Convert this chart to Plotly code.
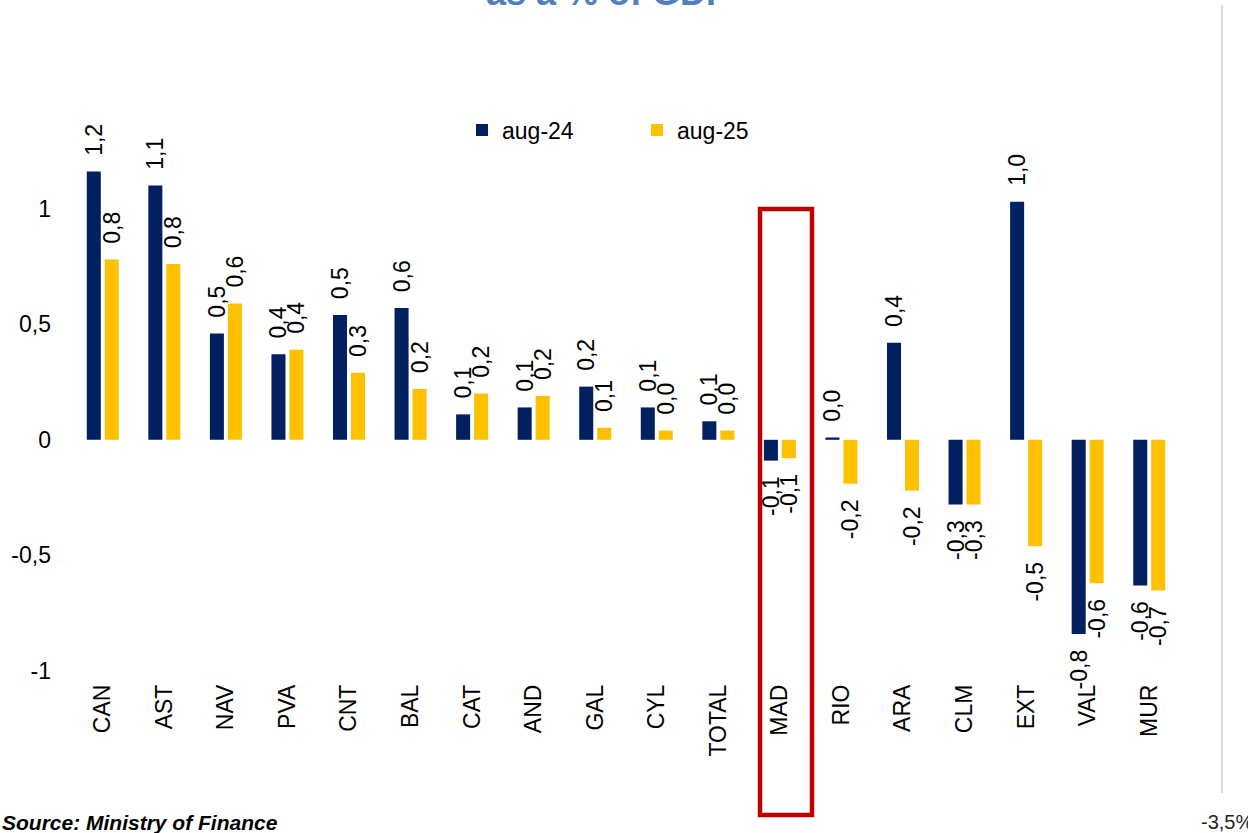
import plotly.graph_objects as go

categories = ["CAN", "AST", "NAV", "PVA", "CNT", "BAL", "CAT", "AND", "GAL", "CYL",
              "TOTAL", "MAD", "RIO", "ARA", "CLM", "EXT", "VAL", "MUR"]
aug24 = [1.16, 1.10, 0.46, 0.37, 0.54, 0.57, 0.11, 0.14, 0.23, 0.14,
         0.08, -0.09, 0.01, 0.42, -0.28, 1.03, -0.84, -0.63]
aug25 = [0.78, 0.76, 0.59, 0.39, 0.29, 0.22, 0.20, 0.19, 0.052, 0.04,
         0.04, -0.08, -0.19, -0.22, -0.28, -0.46, -0.62, -0.652]
ytick_vals = [-1, -0.5, 0, 0.5, 1]
ytick_text = ["-1", "-0,5", "0", "0,5", "1"]
series_names = ["aug-24", "aug-25"]
series_colors = ["#002060", "#FFC000"]

FONT = "Liberation Sans, Arial, sans-serif"
YMIN, YMAX = -1, 1.5
NB = "\u00a0"


def labels(vals):
    out = []
    for v in vals:
        s = f"{v:.1f}".replace(".", ",")
        out.append(NB * 2 + s if v >= 0 else s + NB * 2)
    return out


fig = go.Figure()
for name, vals, col in zip(series_names, [aug24, aug25], series_colors):
    fig.add_trace(go.Bar(
        x=categories, y=vals, name=name, marker_color=col,
        marker_line_width=0,
        text=labels(vals), textposition="outside", textangle=-90,
        constraintext="none", cliponaxis=False,
        textfont=dict(family=FONT, size=23, color="#000000"),
        hoverinfo="skip",
    ))

n = len(categories)
fig.update_layout(
    width=1248, height=833,
    margin=dict(l=72, r=68, t=93, b=162, pad=0),
    paper_bgcolor="white", plot_bgcolor="white",
    barmode="group", bargap=0.416, bargroupgap=0.22,
    font=dict(family=FONT, size=23, color="#000000"),
    showlegend=True,
    legend=dict(orientation="h", x=0.352, xanchor="left", y=0.936, yanchor="middle",
                font=dict(family=FONT, size=23, color="#000000"),
                bgcolor="rgba(0,0,0,0)", entrywidth=130, entrywidthmode="pixels"),
    xaxis=dict(type="category", categoryorder="array", categoryarray=categories,
               range=[-0.5, n - 0.5], showline=False, showgrid=False, zeroline=False,
               ticks="", tickangle=-90, ticklabelstandoff=8,
               tickfont=dict(family=FONT, size=23, color="#000000")),
    xaxis2=dict(overlaying="x", anchor="free", position=(0 - YMIN) / (YMAX - YMIN),
                side="bottom", range=[-0.5, n - 0.5],
                tickvals=[i - 0.5 for i in range(n + 1)], showticklabels=False,
                showline=True, linecolor="#D9D9D9", linewidth=2,
                ticks="outside", ticklen=7, tickwidth=2, tickcolor="#D9D9D9",
                showgrid=False, zeroline=False),
    yaxis=dict(range=[YMIN, YMAX], tickvals=ytick_vals, ticktext=ytick_text,
               showgrid=False, zeroline=False, showline=False, ticks="",
               ticklabelstandoff=20,
               tickfont=dict(family=FONT, size=23, color="#000000")),
)

# plot area in pixels: x 72..1180, y 93..671
def px(x):
    return (x - 72) / 1108.0

def py(y):
    return (671 - y) / 578.0

fig.add_annotation(text="<b>as a % of GDP</b>", xref="paper", yref="paper",
                   x=px(608), y=py(15), xanchor="center", yanchor="bottom",
                   showarrow=False, font=dict(family=FONT, size=36, color="#4F81BD"))
fig.add_annotation(text="<b><i>Source: Ministry of Finance</i></b>", xref="paper", yref="paper",
                   x=px(0), y=py(822), xanchor="left", yanchor="middle",
                   showarrow=False, font=dict(family=FONT, size=21, color="#000000"))
fig.add_annotation(text="-3,5%", xref="paper", yref="paper",
                   x=px(1199), y=py(822), xanchor="left", yanchor="middle",
                   showarrow=False, font=dict(family=FONT, size=20, color="#262626"))

fig.add_shape(type="line", xref="paper", yref="paper",
              x0=px(1222), x1=px(1222), y0=py(5), y1=py(793),
              line=dict(color="#D9D9D9", width=2))
fig.add_shape(type="rect", xref="paper", yref="paper",
              x0=px(760), x1=px(812), y0=py(815), y1=py(209),
              line=dict(color="#C00000", width=4.5), fillcolor="rgba(0,0,0,0)")

fig.write_html("out.html", config={"displayModeBar": False},
               post_script="document.body.style.margin='0';document.body.style.overflow='hidden';")
